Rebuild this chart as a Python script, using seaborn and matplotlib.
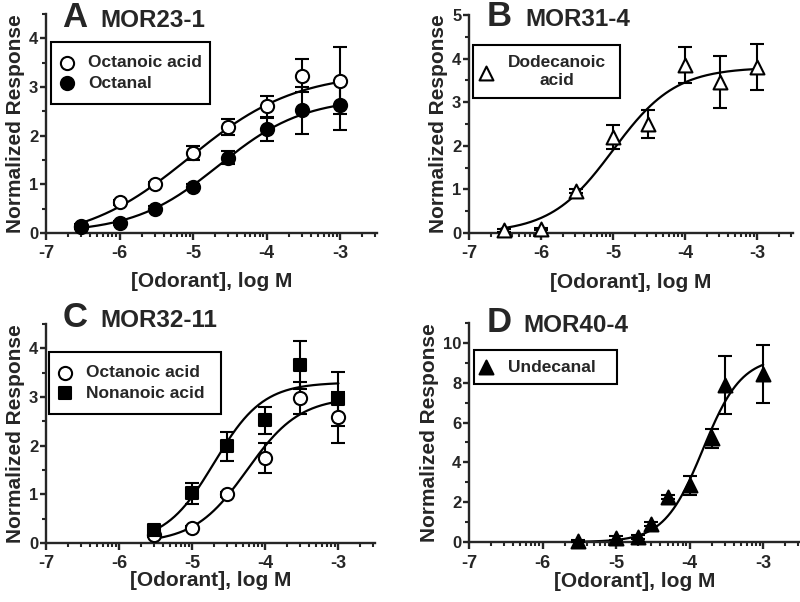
import numpy as np
import matplotlib.pyplot as plt
import seaborn as sns

sns.set_style('ticks')
plt.rcParams['font.family'] = ['Liberation Sans', 'DejaVu Sans']
plt.rcParams['font.weight'] = 'bold'
plt.rcParams['axes.labelweight'] = 'bold'

# ---- data (log M concentrations, normalized response, SEM) ----
a_x = [-6.52, -6.0, -5.52, -5.0, -4.52, -4.0, -3.52, -3.0]
a_octanoic = [0.15, 0.63, 1.0, 1.65, 2.18, 2.6, 3.23, 3.13]
a_octanoic_err = [0.03, 0.05, 0.05, 0.14, 0.17, 0.22, 0.34, 0.69]
a_octanal = [0.12, 0.2, 0.5, 0.95, 1.55, 2.13, 2.52, 2.62]
a_octanal_err = [0.03, 0.04, 0.05, 0.06, 0.14, 0.24, 0.49, 0.5]

b_x = [-6.52, -6.0, -5.52, -5.0, -4.52, -4.0, -3.52, -3.0]
b_dodecanoic = [0.06, 0.09, 0.97, 2.2, 2.5, 3.85, 3.47, 3.8]
b_dodecanoic_err = [0.03, 0.03, 0.05, 0.27, 0.31, 0.42, 0.6, 0.53]

c_x = [-5.52, -5.0, -4.52, -4.0, -3.52, -3.0]
c_octanoic = [0.16, 0.3, 1.0, 1.75, 2.98, 2.58]
c_octanoic_err = [0.03, 0.04, 0.05, 0.31, 0.32, 0.52]
c_nonanoic = [0.27, 1.02, 1.99, 2.52, 3.66, 2.96]
c_nonanoic_err = [0.04, 0.22, 0.3, 0.27, 0.5, 0.55]

d_x = [-5.52, -5.0, -4.7, -4.52, -4.3, -4.0, -3.7, -3.52, -3.0]
d_undecanal = [0.05, 0.2, 0.25, 0.9, 2.26, 2.85, 5.2, 7.9, 8.45]
d_undecanal_err = [0.05, 0.08, 0.1, 0.1, 0.1, 0.48, 0.5, 1.45, 1.45]

# fitted dose-response parameters: bottom, top, logEC50, hill slope
a_octanoic_fit = (-0.2, 3.3, -5.05, 0.6)
a_octanal_fit = (0.0, 2.78, -4.65, 0.75)
b_dodecanoic_fit = (0.0, 3.8, -5.0, 1.0)
c_octanoic_fit = (0.0, 3.0, -4.25, 1.2)
c_nonanoic_fit = (0.0, 3.3, -4.7, 1.3)
d_undecanal_fit = (0.0, 9.3, -3.82, 1.65)


def hill(x, p):
    bottom, top, logec50, slope = p
    return bottom + (top - bottom) / (1 + 10 ** ((logec50 - x) * slope))


W, H = 800, 602
fig = plt.figure(figsize=(8, 6.02), dpi=100)


def px_axes(left, right, bottom, top):
    return fig.add_axes([left / W, 1 - bottom / H, (right - left) / W, (bottom - top) / H])


def style_axis(ax, ymax, ymajor, xlab_y):
    ax.set_xlim(-7, -2.5)
    ax.set_ylim(0, ymax)
    ax.set_xticks([-7, -6, -5, -4, -3])
    ax.set_xticklabels(['-7', '-6', '-5', '-4', '-3'])
    minors = [d + np.log10(k) for d in range(-7, -2) for k in range(2, 10)]
    ax.set_xticks([m for m in minors if m <= -2.5], minor=True)
    ax.set_yticks(np.arange(0, ymax + 0.01, ymajor))
    ax.set_yticks(np.arange(ymajor / 2, ymax + 0.01, ymajor), minor=True)
    sns.despine(ax=ax)
    for s in ['left', 'bottom']:
        ax.spines[s].set_linewidth(1.7)
    ax.tick_params(axis='x', which='major', length=5, width=1.7, labelsize=13, pad=4)
    ax.tick_params(axis='y', which='major', length=4.5, width=1.7, labelsize=12, pad=1)
    ax.tick_params(axis='x', which='minor', length=3, width=1.5)
    ax.tick_params(axis='y', which='minor', length=3, width=1.5)
    ax.set_xlabel('[Odorant], log M', fontsize=15, fontweight='bold')
    ax.xaxis.set_label_coords(0.5, xlab_y)
    ax.set_ylabel('Normalized Response', fontsize=15, fontweight='bold', labelpad=3)


def draw_series(ax, x, y, err, fit, marker, face, label, size=90):
    xs = np.linspace(x[0] - 0.03, x[-1], 200)
    sns.lineplot(x=xs, y=hill(xs, fit), ax=ax, color='black', linewidth=1.6, zorder=2)
    ax.errorbar(x, y, yerr=err, fmt='none', ecolor='black', elinewidth=1.5,
                capsize=5, capthick=1.5, zorder=3, clip_on=False)
    sns.scatterplot(x=x, y=y, ax=ax, marker=marker, s=size, color=face,
                    edgecolor='black', linewidth=1.5, label=label, zorder=4, clip_on=False)


def add_legend(ax, box, pad, multi_center=False):
    l, t, r = box
    top = 1 - t / H
    leg = ax.legend(loc='upper left', bbox_to_anchor=(l / W, top - 0.01, (r - l) / W, 0.01),
                    bbox_transform=fig.transFigure, mode='expand', frameon=True,
                    fancybox=False, edgecolor='black', framealpha=1, fontsize=12.5,
                    borderpad=pad, labelspacing=0.3, handletextpad=1.1,
                    handlelength=0.3, borderaxespad=0)
    leg.get_frame().set_linewidth(1.5)
    for txt in leg.get_texts():
        txt.set_fontweight('bold')
        if multi_center:
            txt.set_multialignment('center')


def add_title(letter, name, lx, nx, base):
    fig.text(lx / W, 1 - base / H, letter, fontsize=25, fontweight='bold', va='baseline')
    fig.text(nx / W, 1 - base / H, name, fontsize=17.5, fontweight='bold', va='baseline')


# Panel A
ax = px_axes(46, 377, 233, 14)
style_axis(ax, 4.5, 1, -0.18)
draw_series(ax, a_x, a_octanoic, a_octanoic_err, a_octanoic_fit, 'o', 'white', 'Octanoic acid')
draw_series(ax, a_x, a_octanal, a_octanal_err, a_octanal_fit, 'o', 'black', 'Octanal')
add_legend(ax, (51, 42, 210), 0.75)
add_title('A', 'MOR23-1', 62, 100, 27)

# Panel B
ax = px_axes(469, 793, 233, 15)
style_axis(ax, 5, 1, -0.185)
draw_series(ax, b_x, b_dodecanoic, b_dodecanoic_err, b_dodecanoic_fit, '^', 'white',
            'Dodecanoic\nacid', size=100)
add_legend(ax, (473, 45, 620), 0.6, multi_center=True)
add_title('B', 'MOR31-4', 487, 525, 26)

# Panel C
ax = px_axes(46, 375, 543, 324)
style_axis(ax, 4.5, 1, -0.13)
draw_series(ax, c_x, c_octanoic, c_octanoic_err, c_octanoic_fit, 'o', 'white', 'Octanoic acid')
draw_series(ax, c_x, c_nonanoic, c_nonanoic_err, c_nonanoic_fit, 's', 'black', 'Nonanoic acid', size=75)
add_legend(ax, (49, 352, 221), 0.75)
add_title('C', 'MOR32-11', 63, 100, 327)

# Panel D
ax = px_axes(469, 800, 542, 323)
style_axis(ax, 11, 2, -0.135)
draw_series(ax, d_x, d_undecanal, d_undecanal_err, d_undecanal_fit, '^', 'black', 'Undecanal', size=100)
add_legend(ax, (474, 350, 617), 0.55)
add_title('D', 'MOR40-4', 487, 523, 332)

fig.savefig('out.png', dpi=100)
